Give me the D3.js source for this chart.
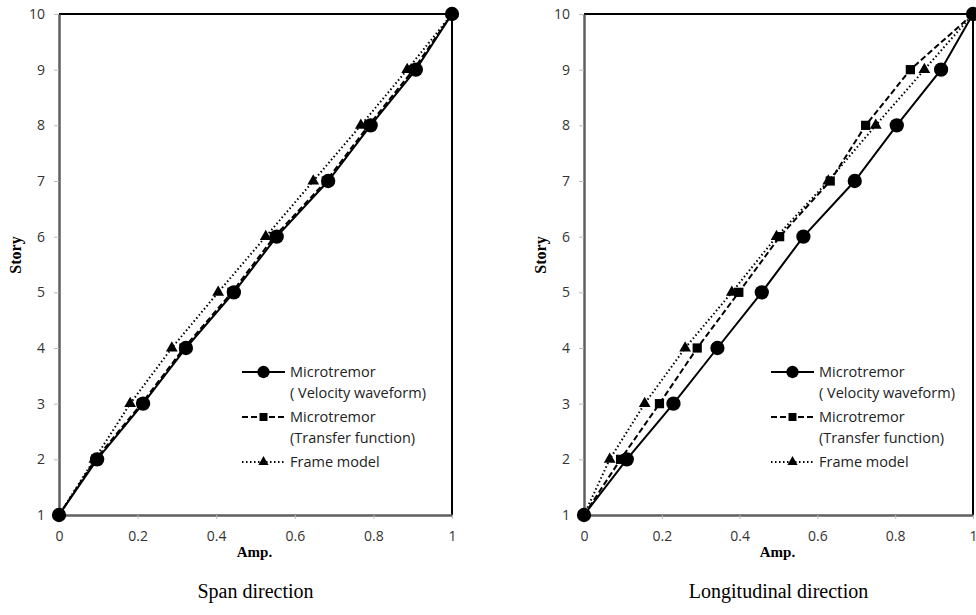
<!DOCTYPE html>
<head>
  <meta charset="utf-8">
  <title>Story - Amp.</title>
  <script src="https://d3js.org/d3.v7.min.js"></script>
  <style>
    body { margin: 0; background: #fff; }
  </style>
</head>
<body>
  <div id="chart"></div>
  <script>
    // Geschosse (y) und Amplituden (x) je Richtung
    var stories = [1, 2, 3, 4, 5, 6, 7, 8, 9, 10];

    var spanVelocity = [0, 0.097, 0.214, 0.323, 0.445, 0.554, 0.685, 0.793, 0.908, 1];
    var spanTransfer = [0, 0.093, 0.210, 0.318, 0.440, 0.548, 0.680, 0.788, 0.902, 1];
    var spanFrame    = [0, 0.090, 0.181, 0.287, 0.405, 0.526, 0.647, 0.768, 0.886, 1];

    var longVelocity = [0, 0.110, 0.230, 0.343, 0.457, 0.564, 0.696, 0.804, 0.918, 1];
    var longTransfer = [0, 0.094, 0.194, 0.291, 0.398, 0.503, 0.633, 0.724, 0.839, 1];
    var longFrame    = [0, 0.066, 0.156, 0.260, 0.380, 0.495, 0.628, 0.750, 0.875, 1];

    var xTicks = [0, 0.2, 0.4, 0.6, 0.8, 1];
    var yTicks = [1, 2, 3, 4, 5, 6, 7, 8, 9, 10];

    var legendLabels = [
      ['Microtremor', '( Velocity waveform)'],
      ['Microtremor', '(Transfer function)'],
      ['Frame model']
    ];
    var titles = ['Span direction', 'Longitudinal direction'];

    var width = 976, height = 615;
    var plotTop = 14, plotBottom = 515;

    // Linienstil und Markertyp pro Serie
    var styles = [
      { dash: null, symbol: d3.symbolCircle, size: 160 },
      { dash: '6,3', symbol: d3.symbolSquare, size: 85 },
      { dash: '1.5,2.5', symbol: d3.symbolTriangle, size: 60 }
    ];

    var panels = [
      { x0: 59, x1: 452, legendX: 242, title: titles[0],
        series: [spanVelocity, spanTransfer, spanFrame] },
      { x0: 584, x1: 973, legendX: 771, title: titles[1],
        series: [longVelocity, longTransfer, longFrame] }
    ];

    var svg = d3.select('#chart')
      .append('svg')
        .attr('width', width)
        .attr('height', height);

    var yScale = d3.scaleLinear().domain([1, 10]).range([plotBottom, plotTop]);

    panels.forEach(function (p) {
      var xScale = d3.scaleLinear().domain([0, 1]).range([p.x0, p.x1]);
      var g = svg.append('g');

      // Rahmen oben und rechts (schwarz)
      g.append('path')
        .attr('d', 'M' + p.x0 + ',' + plotTop + 'H' + p.x1 + 'V' + plotBottom)
        .attr('fill', 'none')
        .attr('stroke', '#000')
        .attr('stroke-width', 2);

      // x-Achse
      var xAxis = d3.axisBottom(xScale)
        .tickValues(xTicks)
        .tickSizeInner(4)
        .tickSizeOuter(0)
        .tickFormat(d3.format('~g'));
      var gx = g.append('g')
        .attr('transform', 'translate(0,' + plotBottom + ')')
        .call(xAxis);
      gx.select('.domain').attr('stroke', '#5f5f5f').attr('stroke-width', 2.5);
      gx.selectAll('.tick line').attr('stroke', '#bbb');
      gx.selectAll('.tick text')
        .attr('y', 16)
        .style('font-family', '"Open Sans", sans-serif')
        .style('font-size', '14px')
        .attr('fill', '#333');

      // y-Achse
      var yAxis = d3.axisLeft(yScale)
        .tickValues(yTicks)
        .tickSizeInner(5)
        .tickSizeOuter(0)
        .tickFormat(d3.format('d'));
      var gy = g.append('g')
        .attr('transform', 'translate(' + p.x0 + ',0)')
        .call(yAxis);
      gy.select('.domain').attr('stroke', '#5f5f5f').attr('stroke-width', 2.5);
      gy.selectAll('.tick line').attr('stroke', '#bbb');
      gy.selectAll('.tick text')
        .attr('x', -14)
        .style('font-family', '"Open Sans", sans-serif')
        .style('font-size', '14px')
        .attr('fill', '#333');

      // Achsentitel
      g.append('text')
        .attr('transform', 'translate(' + (p.x0 - 38) + ',255) rotate(-90)')
        .attr('text-anchor', 'middle')
        .style('font-family', '"Liberation Serif", "Times New Roman", serif')
        .style('font-weight', 'bold')
        .style('font-size', '16px')
        .text('Story');

      g.append('text')
        .attr('x', (p.x0 + p.x1) / 2 - 1)
        .attr('y', 557)
        .attr('text-anchor', 'middle')
        .style('font-family', '"Liberation Serif", "Times New Roman", serif')
        .style('font-weight', 'bold')
        .style('font-size', '15px')
        .text('Amp.');

      g.append('text')
        .attr('x', (p.x0 + p.x1) / 2)
        .attr('y', 598)
        .attr('text-anchor', 'middle')
        .style('font-family', '"Liberation Serif", "Times New Roman", serif')
        .style('font-size', '20px')
        .text(p.title);

      // Linien und Marker
      p.series.forEach(function (vals, i) {
        var pts = vals.map(function (v, k) { return [v, stories[k]]; });
        var line = d3.line()
          .x(function (d) { return xScale(d[0]); })
          .y(function (d) { return yScale(d[1]); });
        g.append('path')
          .datum(pts)
          .attr('fill', 'none')
          .attr('stroke', '#000')
          .attr('stroke-width', 2)
          .attr('stroke-dasharray', styles[i].dash)
          .attr('d', line);
        g.selectAll('.m' + i)
          .data(pts)
          .enter().append('path')
            .attr('class', 'm' + i)
            .attr('transform', function (d) {
              return 'translate(' + xScale(d[0]) + ',' + yScale(d[1]) + ')';
            })
            .attr('d', d3.symbol().type(styles[i].symbol).size(styles[i].size))
            .attr('fill', '#000');
      });

      // Legende
      var ly = [372, 417, 462];
      var leg = g.append('g');
      legendLabels.forEach(function (lab, i) {
        leg.append('line')
          .attr('x1', p.legendX).attr('x2', p.legendX + 43)
          .attr('y1', ly[i]).attr('y2', ly[i])
          .attr('stroke', '#000')
          .attr('stroke-width', 2)
          .attr('stroke-dasharray', styles[i].dash);
        leg.append('path')
          .attr('transform', 'translate(' + (p.legendX + 21.5) + ',' + ly[i] + ')')
          .attr('d', d3.symbol().type(styles[i].symbol).size(styles[i].size * 0.75))
          .attr('fill', '#000');
        lab.forEach(function (t, j) {
          leg.append('text')
            .attr('x', p.legendX + 48)
            .attr('y', ly[i] + j * 21)
            .attr('dy', '0.35em')
            .style('font-family', '"Open Sans", sans-serif')
            .style('font-size', '14.5px')
            .attr('fill', '#222')
            .text(t);
        });
      });
    });
  </script>
</body>
